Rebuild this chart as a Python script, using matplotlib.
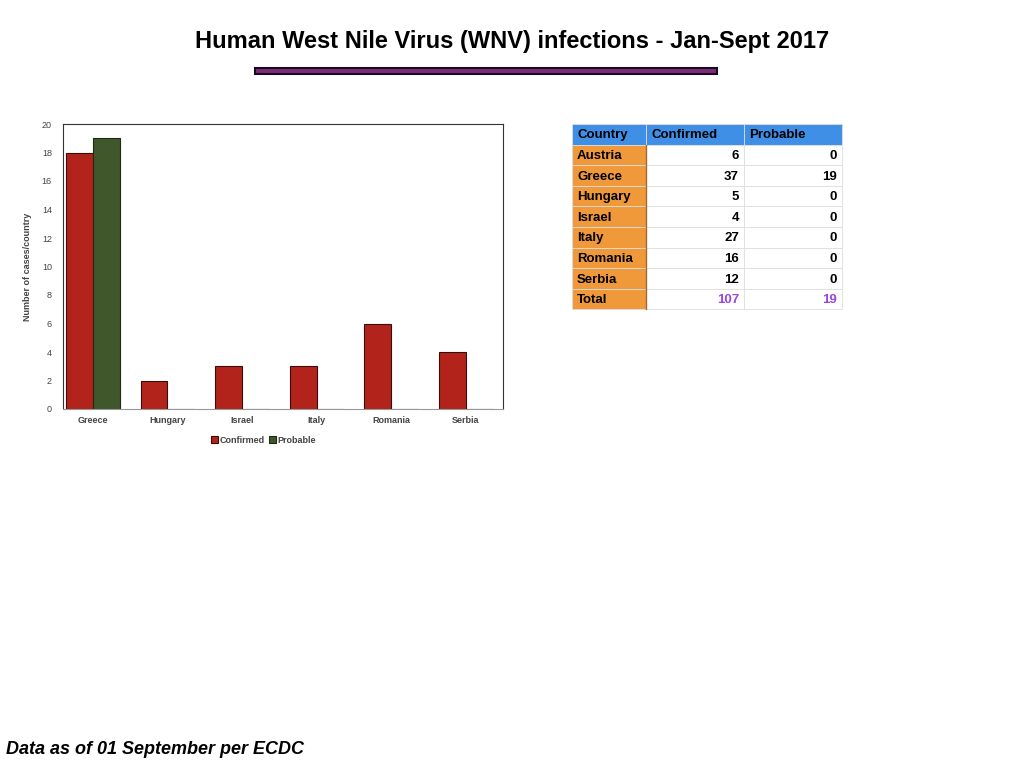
import matplotlib.pyplot as plt
from matplotlib.patches import Rectangle
import numpy as np

plt.rcParams['font.family'] = ['Liberation Sans', 'DejaVu Sans']

# chart data
countries = ['Greece', 'Hungary', 'Israel', 'Italy', 'Romania', 'Serbia']
confirmed = [18, 2, 3, 3, 6, 4]
probable = [19, 0, 0, 0, 0, 0]

# table data
table_countries = ['Austria', 'Greece', 'Hungary', 'Israel', 'Italy', 'Romania', 'Serbia']
table_confirmed = [6, 37, 5, 4, 27, 16, 12]
table_probable = [0, 19, 0, 0, 0, 0, 0]
total_confirmed = 107
total_probable = 19

fig = plt.figure(figsize=(10.24, 7.68), dpi=100)

fig.text(0.5, 0.946, 'Human West Nile Virus (WNV) infections - Jan-Sept 2017',
         ha='center', va='center', fontsize=17, fontweight='bold')
fig.patches.append(Rectangle((255 / 1024, 1 - 74 / 768), 462 / 1024, 6 / 768,
                             transform=fig.transFigure, facecolor='#7b2d7b',
                             edgecolor='#1a0a1e', linewidth=1.5))

ax = fig.add_axes([63 / 1024, 1 - 409 / 768, 440 / 1024, 285 / 768])
x = np.arange(len(countries))
w = 0.36
ax.bar(x - w / 2, confirmed, w, color='#b2241b', edgecolor='#3a0d0a', linewidth=0.8, label='Confirmed')
ax.bar(x + w / 2, probable, w, color='#3f572b', edgecolor='#1e2a14', linewidth=0.8, label='Probable')
ax.set_xlim(-0.4, len(countries) - 0.5)
ax.set_ylim(0, 20)
ax.set_yticks(range(0, 21, 2))
ax.set_xticks(x)
ax.set_xticklabels(countries)
ax.tick_params(axis='x', length=0, labelsize=6.5, labelcolor='#444444', pad=5)
ax.tick_params(axis='y', length=0, labelsize=6.5, labelcolor='#444444', pad=8)
for lab in ax.get_xticklabels():
    lab.set_fontweight('bold')
ax.set_ylabel('Number of cases/country', fontsize=6.5, color='#444444', fontweight='bold', labelpad=7)
for s in ax.spines.values():
    s.set_color('#333333')
    s.set_linewidth(0.8)
ax.spines['bottom'].set_color('#999999')
ax.legend(loc='upper center', bbox_to_anchor=(0.455, -0.065), ncol=2, frameon=False,
          prop={'size': 6.5, 'weight': 'bold'}, handlelength=0.8, handleheight=0.8,
          handletextpad=0.15, columnspacing=0.5, labelcolor='#444444')

# table
tx0, ty0 = 572, 124
col_w = [74, 98, 98]
row_h = 20.6
rows = [('Country', 'Confirmed', 'Probable')]
rows += [(c, str(a), str(b)) for c, a, b in zip(table_countries, table_confirmed, table_probable)]
rows.append(('Total', str(total_confirmed), str(total_probable)))

tax = fig.add_axes([0, 0, 1, 1])
tax.set_xlim(0, 1024)
tax.set_ylim(768, 0)
tax.axis('off')
for i, row in enumerate(rows):
    y = ty0 + i * row_h
    xx = tx0
    for j, val in enumerate(row):
        if i == 0:
            fc = '#3f8fe6'
        elif j == 0:
            fc = '#f0993b'
        else:
            fc = 'white'
        tax.add_patch(Rectangle((xx, y), col_w[j], row_h, facecolor=fc,
                                edgecolor='#dddddd', linewidth=0.6))
        color = '#9a45dc' if (i == len(rows) - 1 and j > 0) else 'black'
        if i == 0 or j == 0:
            tax.text(xx + 5, y + row_h / 2 + 1, val, ha='left', va='center',
                     fontsize=9.5, fontweight='bold', color=color)
        else:
            tax.text(xx + col_w[j] - 5, y + row_h / 2 + 1, val, ha='right', va='center',
                     fontsize=9.5, fontweight='bold', color=color)
        xx += col_w[j]
tax.plot([tx0 + col_w[0], tx0 + col_w[0]], [ty0 + row_h, ty0 + row_h * len(rows)],
         color='#a06a30', linewidth=1)

fig.text(6 / 1024, 1 - 749 / 768, 'Data as of 01 September per ECDC', ha='left', va='center',
         fontsize=13, fontweight='bold', fontstyle='italic')

fig.savefig('out.png', dpi=100)
